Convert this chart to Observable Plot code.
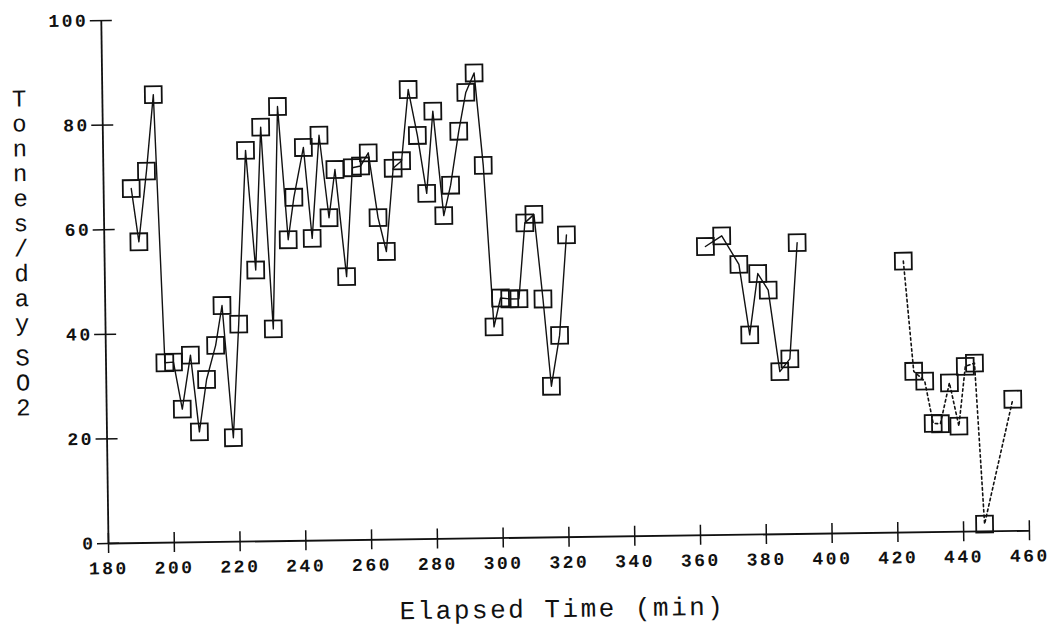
<!DOCTYPE html>
<html><head><meta charset="utf-8">
<script src="https://cdn.jsdelivr.net/npm/d3@7"></script>
<script src="https://cdn.jsdelivr.net/npm/@observablehq/plot@0.6"></script>
<style>
html,body{margin:0;padding:0;background:#fff;overflow:hidden;}
#chart svg{display:block;transform:rotate(-0.79deg);transform-origin:108px 543px;}
</style></head><body><div id="chart"></div>
<script>
// Run 1 (solid line)
const run1Time = [188.4,190.5,193.1,195.5,197.9,200.5,203.0,205.7,208.1,210.5,213.4,215.5,218.4,220.5,223.3,225.9,228.0,231.0,233.2,235.9,237.8,240.9,243.2,245.7,248.4,250.4,253.5,255.7,258.2,260.6,263.3,265.7,268.1,270.7,273.0,275.6,278.2,280.4,283.3,285.5,288.2,290.5,293.1,295.5,298.1,300.2,303.0,305.8,307.9,310.7,313.1,315.3,318.0,320.5];
const run1SO2  = [67.8,57.6,71.1,85.7,34.4,34.5,25.5,35.8,21.1,31.1,37.6,45.2,19.9,41.6,74.8,51.9,79.2,40.6,83.1,57.6,65.7,75.2,57.8,77.5,61.7,70.9,50.4,71.2,71.5,74.0,61.6,55.1,71.0,72.4,86.0,77.2,66.1,81.8,61.8,67.6,77.9,85.3,89.0,71.3,40.4,45.9,45.7,45.7,60.2,61.8,45.6,28.9,38.6,57.8];
// Run 2 (solid line)
const run2Time = [362.7,367.7,372.8,375.8,378.5,381.6,384.8,387.9,390.6];
const run2SO2  = [55.2,57.2,51.7,38.2,49.9,46.7,31.1,33.5,55.7];
// Run 3 (dotted line)
const run3Time = [422.8,425.5,428.8,431.2,433.4,436.3,439.0,441.2,444.0,446.4,455.5];
const run3SO2  = [51.9,30.8,28.9,20.8,20.7,28.5,20.2,31.6,32.2,1.4,25.2];

const xTicks = [180,200,220,240,260,280,300,320,340,360,380,400,420,440,460];
const yTicks = [0,20,40,60,80,100];
const xTitle = "Elapsed Time (min)";
const yTitleTop = "Tonnes/day";
const yTitleBottom = "SO2";

const toRows = (ts, vs, run) => ts.map((t, i) => ({t, v: vs[i], run}));
const solidRows = [...toRows(run1Time, run1SO2, 1), ...toRows(run2Time, run2SO2, 2)];
const dottedRows = toRows(run3Time, run3SO2, 3);
const allRows = [...solidRows, ...dottedRows];

const ink = "#111";
const chart = Plot.plot({
  width: 1051, height: 632,
  marginLeft: 108, marginRight: 22, marginTop: 20, marginBottom: 89,
  x: {domain: [180, 460]},
  y: {domain: [0, 100]},
  style: {fontFamily: "'Liberation Mono', 'DejaVu Sans Mono', monospace", color: ink, background: "#fff", letterSpacing: "2.5px"},
  marks: [
    Plot.ruleY([0], {stroke: ink, strokeWidth: 1.8}),
    Plot.ruleX([180], {stroke: ink, strokeWidth: 1.8}),
    Plot.axisX({ticks: xTicks, tickSize: 20, dy: -10, tickPadding: 8, fontSize: 18, fontWeight: "bold", label: null, stroke: ink, strokeWidth: 1.5}),
    Plot.axisY({ticks: yTicks, tickSize: 22, dx: 11, tickPadding: 2, fontSize: 18, fontWeight: "bold", label: null, stroke: ink, strokeWidth: 1.5}),
    Plot.line(solidRows, {x: "t", y: "v", z: "run", stroke: ink, strokeWidth: 1.4}),
    Plot.line(dottedRows, {x: "t", y: "v", stroke: ink, strokeWidth: 1.6, strokeDasharray: "2.5,3"}),
    Plot.dot(allRows, {x: "t", y: "v", symbol: "square", r: 9.5, stroke: ink, strokeWidth: 1.8, fill: "none"}),
    Plot.text([xTitle], {frameAnchor: "bottom", dy: 71.5, dx: -7.5, fontSize: 26, lineAnchor: "middle", fill: ink}),
    Plot.text([yTitleTop.split("").join("\n")], {frameAnchor: "top-left", dx: -82, dy: 67, textAnchor: "middle", lineAnchor: "top", fontSize: 24, lineHeight: 1.04, fill: ink}),
    Plot.text([yTitleBottom.split("").join("\n")], {frameAnchor: "top-left", dx: -82, dy: 326, textAnchor: "middle", lineAnchor: "top", fontSize: 24, lineHeight: 1.04, fill: ink})
  ]
});
document.getElementById("chart").appendChild(chart);
</script></body></html>
